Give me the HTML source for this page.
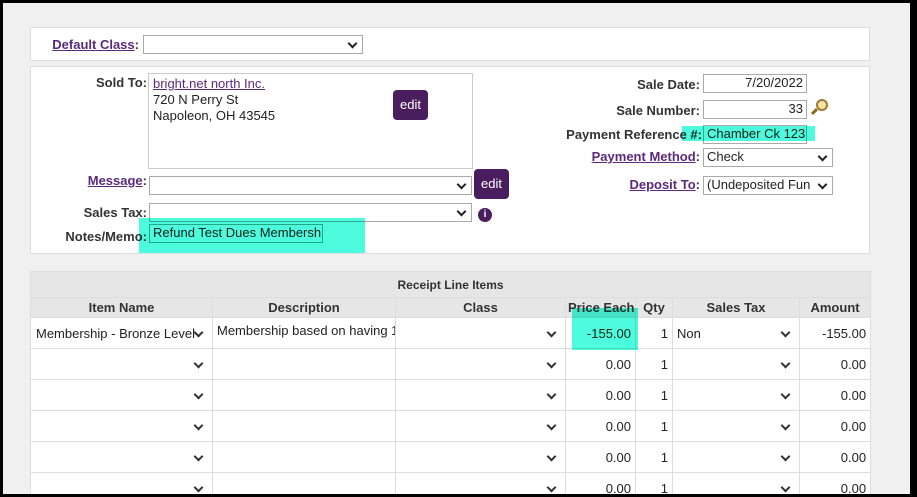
<!DOCTYPE html>
<html><head><meta charset="utf-8"><style>
*{box-sizing:border-box}
body{margin:0;width:917px;height:497px;overflow:hidden;background:#000;font-family:"Liberation Sans",Arial,sans-serif;font-size:13px;color:#222}
#c{position:absolute;left:3px;top:3px;width:907px;height:491px;background:#f0f0f0;overflow:hidden}
.a{position:absolute}
.panel{position:absolute;background:#fff;border:1px solid #ddd}
.lbl{position:absolute;font-weight:bold;text-align:right;white-space:nowrap;color:#333}
.lbl u{color:#5b2a7a}
.inp{position:absolute;background:#fff;border:1px solid #aaa;padding:0 3px;line-height:16px;white-space:nowrap;overflow:hidden}
.sel::after{content:"";position:absolute;right:6px;top:4px;width:5px;height:5px;border-right:2px solid #222;border-bottom:2px solid #222;transform:rotate(45deg)}
.btn{position:absolute;background:#4a1d5e;color:#fff;border-radius:4px;text-align:center;font-size:13px}
.hl{position:absolute;background:#4dfcdc;mix-blend-mode:multiply}
table{position:absolute;left:27px;top:268px;width:840px;border-collapse:collapse;background:#fff;table-layout:fixed}
td,th{border:1px solid #ddd;padding:0 4px;font-size:13px;white-space:nowrap;overflow:hidden}
th{background:#e6e6e6;font-weight:bold;height:20px;color:#333}
td{height:31px;position:relative}
.r{text-align:right}
.q{text-align:right;color:#223}
.dd::after{content:"";position:absolute;right:10px;top:11px;width:5px;height:5px;border-right:2px solid #333;border-bottom:2px solid #333;transform:rotate(45deg)}
</style></head><body><div id="c">
<div class="panel" style="left:27px;top:24px;width:840px;height:34px"></div>
<div class="lbl" style="left:40px;top:34px;width:96px"><u>Default Class</u>:</div>
<div class="inp sel" style="left:140px;top:32px;width:220px;height:19px"></div>

<div class="panel" style="left:27px;top:63px;width:840px;height:188px"></div>
<div class="lbl" style="left:60px;top:72px;width:84px">Sold To:</div>
<div class="a" style="left:145px;top:70px;width:325px;height:96px;border:1px solid #ccc"></div>
<div class="a" style="left:150px;top:73px;line-height:16px;font-size:13px"><u style="color:#5b2a7a">bright.net north Inc.</u><br>720 N Perry St<br>Napoleon, OH 43545</div>
<div class="btn" style="left:390px;top:87px;width:35px;height:30px;line-height:30px">edit</div>
<div class="lbl" style="left:60px;top:170px;width:84px"><u>Message</u>:</div>
<div class="inp sel" style="left:146px;top:173px;width:323px;height:19px"></div>
<div class="btn" style="left:471px;top:166px;width:35px;height:30px;line-height:30px">edit</div>
<div class="lbl" style="left:60px;top:202px;width:84px">Sales Tax:</div>
<div class="inp sel" style="left:146px;top:200px;width:323px;height:19px"></div>
<div class="a" style="left:475px;top:205px;width:14px;height:14px;border-radius:50%;background:#4a1d5e;color:#fff;font-size:10px;font-weight:bold;text-align:center;line-height:14px">i</div>
<div class="lbl" style="left:40px;top:226px;width:104px">Notes/Memo:</div>
<div class="inp" style="left:146px;top:221px;width:174px;height:19px;border-color:#6a9">Refund Test Dues Membersh</div>
<div class="hl" style="left:136px;top:215px;width:226px;height:35px"></div>

<div class="lbl" style="left:540px;top:74px;width:157px">Sale Date:</div>
<div class="inp r" style="left:700px;top:71px;width:104px;height:19px">7/20/2022</div>
<div class="lbl" style="left:540px;top:100px;width:157px">Sale Number:</div>
<div class="inp r" style="left:700px;top:97px;width:104px;height:19px">33</div>
<div class="a" style="left:813px;top:96px;width:12px;height:12px;border-radius:50%;border:2px solid #a07a30;background:#f6e6a6"></div>
<div class="a" style="left:808px;top:107px;width:7px;height:3px;background:#8a6a20;transform:rotate(-45deg)"></div>
<div class="lbl" style="left:540px;top:124px;width:159px">Payment Reference #:</div>
<div class="inp" style="left:700px;top:122px;width:104px;height:19px">Chamber Ck 123</div>
<div class="hl" style="left:679px;top:123px;width:133px;height:15px"></div>
<div class="lbl" style="left:540px;top:146px;width:157px"><u>Payment Method</u>:</div>
<div class="inp sel" style="left:700px;top:145px;width:130px;height:19px">Check</div>
<div class="lbl" style="left:540px;top:174px;width:157px"><u>Deposit To</u>:</div>
<div class="inp sel" style="left:700px;top:173px;width:130px;height:19px">(Undeposited Fun</div>

<table>
<colgroup><col style="width:182px"><col style="width:183px"><col style="width:170px"><col style="width:70px"><col style="width:37px"><col style="width:127px"><col style="width:71px"></colgroup>
<tr><th colspan="7" style="height:26px;font-size:12px">Receipt Line Items</th></tr>
<tr><th>Item Name</th><th>Description</th><th>Class</th><th style="padding:0 2px">Price Each</th><th style="padding:0 2px">Qty</th><th>Sales Tax</th><th>Amount</th></tr>
<tr><td class="dd" style="padding-left:5px;padding-right:20px">Membership - Bronze Level</td><td style="vertical-align:top;padding-top:5px">Membership based on having 1</td><td class="dd"></td><td class="r">-155.00</td><td class="q">1</td><td class="dd">Non</td><td class="r">-155.00</td></tr>
<tr><td class="dd"></td><td></td><td class="dd"></td><td class="r">0.00</td><td class="q">1</td><td class="dd"></td><td class="r">0.00</td></tr>
<tr><td class="dd"></td><td></td><td class="dd"></td><td class="r">0.00</td><td class="q">1</td><td class="dd"></td><td class="r">0.00</td></tr>
<tr><td class="dd"></td><td></td><td class="dd"></td><td class="r">0.00</td><td class="q">1</td><td class="dd"></td><td class="r">0.00</td></tr>
<tr><td class="dd"></td><td></td><td class="dd"></td><td class="r">0.00</td><td class="q">1</td><td class="dd"></td><td class="r">0.00</td></tr>
<tr><td class="dd"></td><td></td><td class="dd"></td><td class="r">0.00</td><td class="q">1</td><td class="dd"></td><td class="r">0.00</td></tr>
</table>
<div class="hl" style="left:569px;top:305px;width:66px;height:42px"></div>
</div></body></html>
